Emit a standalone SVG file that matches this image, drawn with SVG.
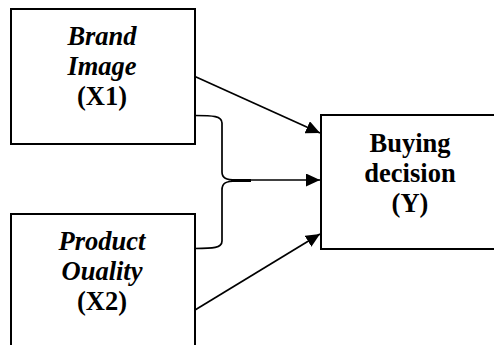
<svg xmlns="http://www.w3.org/2000/svg" width="494" height="345" viewBox="0 0 494 345">
<style>
.box{fill:#fff;stroke:#000;stroke-width:2}
.t{font-family:'Liberation Serif','Times New Roman',Times,'DejaVu Serif',serif;font-size:26.5px;font-weight:700;text-anchor:middle;fill:#000}
.i{font-style:italic}
.c{fill:none;stroke:#000;stroke-width:1.7}
</style>
<defs>
<marker id="ah" markerUnits="userSpaceOnUse" markerWidth="15" markerHeight="13" refX="14" refY="6.5" orient="auto">
<path d="M0,0 L14,6.5 L0,13 z" fill="#000"/>
</marker>
</defs>
<rect width="494" height="345" fill="#fff"/>
<g id="connectors">
<path class="c" d="M195,115.5 C213,115.5 222,116 222,123 L222,172 C222,178 226,180 236,180"/>
<path class="c" d="M236,181 C226,181 222,183 222,190 L222,241 C222,248 213,248.5 195,248.5"/>
<line x1="231" y1="180.5" x2="251" y2="180.5" stroke="#000" stroke-width="3"/>
<line class="c" x1="236" y1="180" x2="320" y2="180" marker-end="url(#ah)"/>
<line class="c" x1="195" y1="76.5" x2="320" y2="133" marker-end="url(#ah)"/>
<line class="c" x1="195" y1="310" x2="320" y2="234" marker-end="url(#ah)"/>
</g>
<g id="node-x1">
<rect class="box" x="11" y="9" width="184" height="135"/>
<text class="t i" x="102" y="45" font-family="Liberation Serif, serif">Brand</text>
<text class="t i" x="102" y="75" font-family="Liberation Serif, serif">Image</text>
<text class="t" x="102" y="105" font-family="Liberation Serif, serif">(X1)</text>
</g>
<g id="node-x2">
<rect class="box" x="11" y="214" width="184" height="140"/>
<text class="t i" x="102" y="250" font-family="Liberation Serif, serif">Product</text>
<text class="t i" x="102" y="280" font-family="Liberation Serif, serif">Ouality</text>
<text class="t" x="102" y="310" font-family="Liberation Serif, serif">(X2)</text>
</g>
<g id="node-y">
<rect class="box" x="321" y="115" width="180" height="134"/>
<text class="t" x="410" y="151.5" font-family="Liberation Serif, serif">Buying</text>
<text class="t" x="410" y="181.5" font-family="Liberation Serif, serif">decision</text>
<text class="t" x="410" y="211.5" font-family="Liberation Serif, serif">(Y)</text>
</g>
</svg>
